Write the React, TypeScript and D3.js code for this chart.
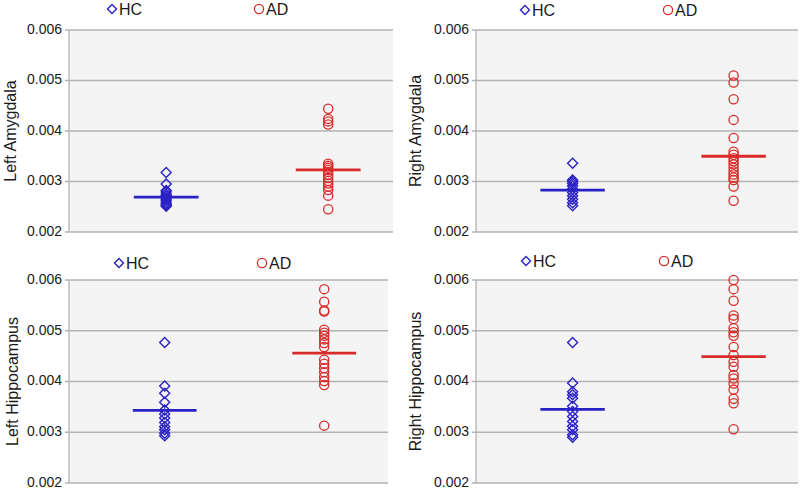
import React from "react";
import * as d3 from "d3";

const groups = ["HC", "AD"];
const tickValues = [0.002, 0.003, 0.004, 0.005, 0.006];

const leftAmygdalaHC = [0.00318, 0.00295, 0.00282, 0.00279, 0.00275, 0.00272, 0.00268, 0.00265, 0.00262, 0.00258, 0.00255, 0.00253, 0.00251];
const leftAmygdalaAD = [0.00444, 0.00424, 0.00419, 0.00413, 0.00335, 0.00331, 0.00327, 0.00323, 0.00319, 0.00313, 0.00307, 0.00301, 0.00296, 0.0029, 0.00283, 0.00272, 0.00245];
const rightAmygdalaHC = [0.00336, 0.00303, 0.003, 0.00296, 0.00291, 0.00285, 0.00278, 0.00272, 0.00265, 0.00258, 0.00252];
const rightAmygdalaAD = [0.0051, 0.00496, 0.00463, 0.00422, 0.00386, 0.00359, 0.00353, 0.00346, 0.0034, 0.00334, 0.00327, 0.0032, 0.00314, 0.00308, 0.00303, 0.0029, 0.00262];
const leftHippoHC = [0.00477, 0.00391, 0.00377, 0.00359, 0.00344, 0.00336, 0.00328, 0.00319, 0.00311, 0.00305, 0.00298, 0.00293];
const leftHippoAD = [0.00582, 0.00557, 0.0054, 0.00538, 0.00502, 0.00496, 0.0049, 0.00483, 0.00476, 0.00468, 0.00443, 0.00435, 0.00426, 0.00418, 0.00409, 0.00401, 0.00393, 0.00313];
const rightHippoHC = [0.00477, 0.00397, 0.0038, 0.00374, 0.00367, 0.00351, 0.00341, 0.00331, 0.00321, 0.00312, 0.00305, 0.00295, 0.0029];
const rightHippoAD = [0.006, 0.00582, 0.00559, 0.0053, 0.00523, 0.00505, 0.00497, 0.0049, 0.00468, 0.00452, 0.00439, 0.00429, 0.00413, 0.00406, 0.00396, 0.00384, 0.00366, 0.00357, 0.00306];

const panelTitles = ["Left Amygdala", "Right Amygdala", "Left Hippocampus", "Right Hippocampus"];
const meansHC = [0.00269, 0.00283, 0.00343, 0.00345];
const meansAD = [0.00323, 0.0035, 0.00456, 0.00449];

const BLUE = "#2a22c4";
const RED = "#d92a2a";
const FONT = "'Liberation Sans', Arial, sans-serif";

type PanelProps = {
  title: string;
  hc: number[];
  ad: number[];
  meanHC: number;
  meanAD: number;
  x0: number;
  x1: number;
  y0: number;
  y1: number;
  titleX: number;
  legendHC: number;
  legendAD: number;
  legendY: number;
};

function Panel(p: PanelProps) {
  const x = d3.scaleLinear().domain([0.4, 2.4]).range([p.x0, p.x1]);
  const y = d3.scaleLinear().domain([0.002, 0.006]).range([p.y1, p.y0]);
  const diamond = (cx: number, cy: number, r: number) =>
    `M${cx},${cy - r}L${cx + r},${cy}L${cx},${cy + r}L${cx - r},${cy}Z`;
  const fmt = d3.format(".3f");
  const series = [
    { name: groups[0], pos: 1, vals: p.hc, mean: p.meanHC, color: BLUE },
    { name: groups[1], pos: 2, vals: p.ad, mean: p.meanAD, color: RED },
  ];
  return (
    <g>
      <rect x={p.x0} y={p.y0} width={p.x1 - p.x0} height={p.y1 - p.y0} fill="#f4f4f4" />
      {tickValues.map((t) => (
        <g key={t}>
          <line x1={p.x0 - 4} x2={p.x1} y1={y(t)} y2={y(t)} stroke="#b3b3b3" strokeWidth={1.3} />
          <text x={p.x0 - 7} y={y(t) - 1} dy="0.35em" textAnchor="end" fontSize={14} fill="#1a1a1a" fontFamily={FONT}>
            {fmt(t)}
          </text>
        </g>
      ))}
      <line x1={p.x0} x2={p.x0} y1={p.y0} y2={p.y1} stroke="#b3b3b3" strokeWidth={1.3} />
      <text
        transform={`translate(${p.titleX},${(p.y0 + p.y1) / 2}) rotate(-90)`}
        textAnchor="middle"
        dy="0.35em"
        fontSize={16}
        fill="#1a1a1a"
        fontFamily={FONT}
      >
        {p.title}
      </text>
      {series.map((s) => (
        <g key={s.name}>
          {s.vals.map((v, i) =>
            s.name === "HC" ? (
              <path key={i} d={diamond(x(s.pos), y(v), 5)} fill="none" stroke={s.color} strokeWidth={1.4} />
            ) : (
              <circle key={i} cx={x(s.pos)} cy={y(v)} r={4.6} fill="none" stroke={s.color} strokeWidth={1.3} />
            )
          )}
          <line
            x1={x(s.pos - 0.2)}
            x2={x(s.pos + 0.2)}
            y1={y(s.mean)}
            y2={y(s.mean)}
            stroke={s.color}
            strokeWidth={2.8}
          />
        </g>
      ))}
      <path d={diamond(p.legendHC, p.legendY, 4.5)} fill="none" stroke={BLUE} strokeWidth={1.4} />
      <text x={p.legendHC + 7} y={p.legendY} dy="0.36em" fontSize={16} fill="#1a1a1a" fontFamily={FONT}>
        {groups[0]}
      </text>
      <circle cx={p.legendAD} cy={p.legendY} r={4.6} fill="none" stroke={RED} strokeWidth={1.3} />
      <text x={p.legendAD + 7} y={p.legendY} dy="0.36em" fontSize={16} fill="#1a1a1a" fontFamily={FONT}>
        {groups[1]}
      </text>
    </g>
  );
}

export default function App() {
  return (
    <svg
      width={800}
      height={489}
      style={{ position: "absolute", left: 0, top: 0, background: "#fff" }}
    >
      <rect width={800} height={489} fill="#fff" />
      <Panel title={panelTitles[0]} hc={leftAmygdalaHC} ad={leftAmygdalaAD} meanHC={meansHC[0]} meanAD={meansAD[0]}
        x0={69} x1={393} y0={30} y1={232} titleX={10} legendHC={112} legendAD={259} legendY={9} />
      <Panel title={panelTitles[1]} hc={rightAmygdalaHC} ad={rightAmygdalaAD} meanHC={meansHC[1]} meanAD={meansAD[1]}
        x0={476} x1={798} y0={30} y1={232} titleX={415} legendHC={525} legendAD={668} legendY={10} />
      <Panel title={panelTitles[2]} hc={leftHippoHC} ad={leftHippoAD} meanHC={meansHC[2]} meanAD={meansAD[2]}
        x0={69} x1={388} y0={280} y1={483} titleX={12} legendHC={119} legendAD={262} legendY={263} />
      <Panel title={panelTitles[3]} hc={rightHippoHC} ad={rightHippoAD} meanHC={meansHC[3]} meanAD={meansAD[3]}
        x0={476} x1={798} y0={280} y1={483} titleX={415} legendHC={526} legendAD={664} legendY={261} />
    </svg>
  );
}
